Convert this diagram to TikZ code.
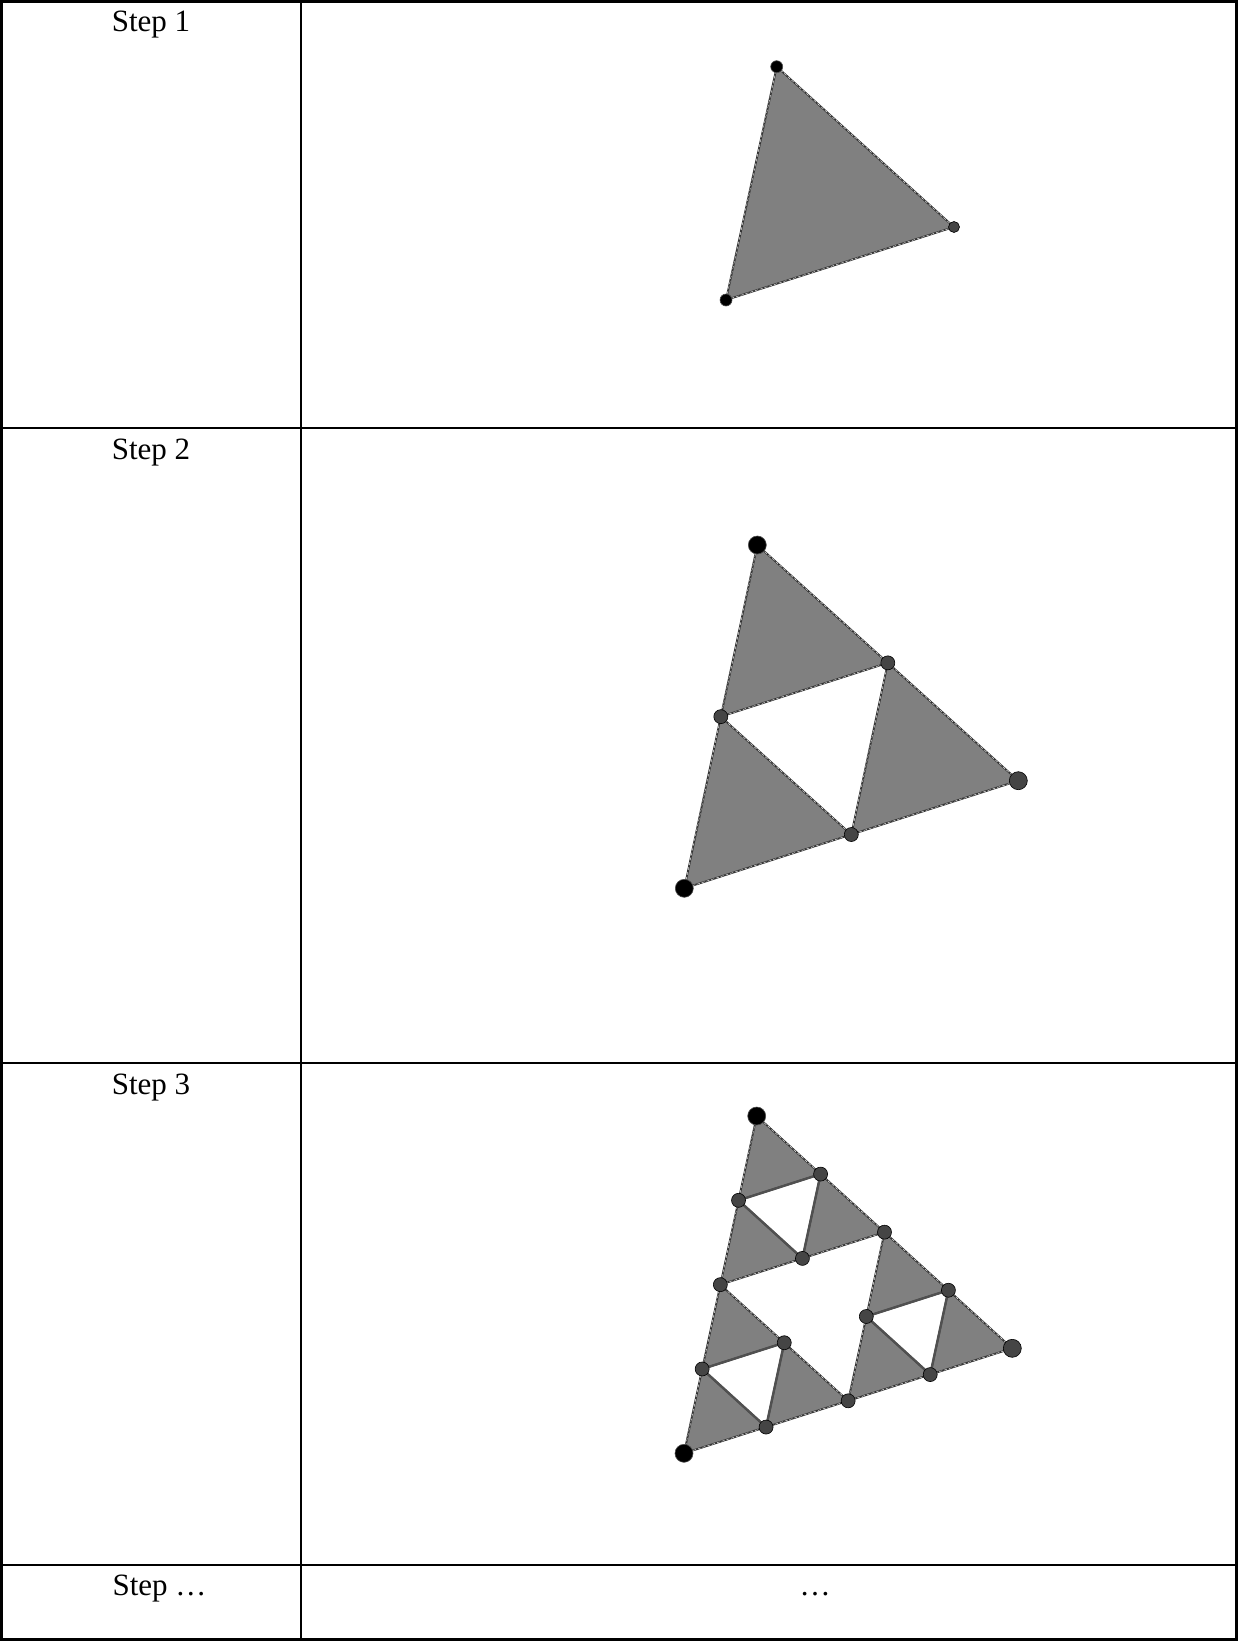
\documentclass[tikz,border=0pt]{standalone}
\usepackage{fontspec}
\setmainfont{Liberation Serif}
\usetikzlibrary{calc}
\definecolor{triGray}{HTML}{808080}
\definecolor{edgeGray}{HTML}{333333}
\definecolor{dotGray}{HTML}{454545}
\definecolor{holeEdge}{HTML}{505050}
\tikzset{
  grid/.style={line width=2.6pt, black},
  lbl/.style={anchor=base, inner sep=0pt, font=\fontsize{31}{37}\selectfont},
  tri/.style={fill=triGray, draw=edgeGray, line width=1.8pt, line join=round},
  hilite/.style={draw=white, line width=0.4pt, dash pattern=on 3pt off 2pt},
  hole/.style={draw=holeEdge, line width=2.4pt, line join=round},
  vdotbig/.style={fill=black, draw=black!70, line width=0.6pt},
  gdot/.style={fill=dotGray, draw=black, line width=0.6pt},
}
\newcommand{\gtri}[3]{%
  \path[tri] (#1) -- (#2) -- (#3) -- cycle;
  \path[hilite] (#1) -- (#2) -- (#3) -- cycle;}
\begin{document}
\begin{tikzpicture}[x=1pt,y=-1pt]
\useasboundingbox (0,0) rectangle (1238,1641);
% table
\draw[grid] (1.3,1.3) rectangle (1236.5,1639.5);
\draw[grid] (301,1) -- (301,1639.5);
\draw[grid] (1,428) -- (1236.5,428);
\draw[grid] (1,1063) -- (1236.5,1063);
\draw[grid] (1,1565) -- (1236.5,1565);
% labels
\node[lbl] (s1) at (151,31.5) {Step 1};
\node[lbl] (s2) at (151,459) {Step 2};
\node[lbl] (s3) at (151,1094) {Step 3};
\node[lbl] (s4) at (159.5,1595) {Step …};
\node[lbl] (dots) at (815,1595) {…};
% ---------- Step 1 ----------
\coordinate (A1) at (776.7,66.7);
\coordinate (B1) at (954,227);
\coordinate (C1) at (726,300);
\gtri{A1}{B1}{C1}
\fill[vdotbig] (A1) circle (6);
\fill[vdotbig] (C1) circle (6);
\fill[gdot] (B1) circle (5.5);
% ---------- Step 2 ----------
\coordinate (A2) at (757.3,545);
\coordinate (B2) at (1018.3,780.7);
\coordinate (C2) at (684.3,888.3);
\coordinate (P2) at ($(A2)!0.5!(B2)$);
\coordinate (Q2) at ($(A2)!0.5!(C2)$);
\coordinate (R2) at ($(B2)!0.5!(C2)$);
\gtri{A2}{P2}{Q2}
\gtri{P2}{B2}{R2}
\gtri{Q2}{R2}{C2}
\fill[gdot] (P2) circle (7);
\fill[gdot] (Q2) circle (7);
\fill[gdot] (R2) circle (7);
\fill[vdotbig] (A2) circle (9);
\fill[vdotbig] (C2) circle (9);
\fill[gdot] (B2) circle (9);
% ---------- Step 3 ----------
\coordinate (A) at (756.7,1116);
\coordinate (B) at (1012.3,1348.3);
\coordinate (C) at (684,1453.3);
\coordinate (P) at ($(A)!0.5!(B)$);
\coordinate (Q) at ($(A)!0.5!(C)$);
\coordinate (R) at ($(B)!0.5!(C)$);
\coordinate (a1) at ($(A)!0.5!(P)$);
\coordinate (a2) at ($(A)!0.5!(Q)$);
\coordinate (a3) at ($(P)!0.5!(Q)$);
\coordinate (b1) at ($(P)!0.5!(B)$);
\coordinate (b2) at ($(P)!0.5!(R)$);
\coordinate (b3) at ($(B)!0.5!(R)$);
\coordinate (c1) at ($(Q)!0.5!(R)$);
\coordinate (c2) at ($(Q)!0.5!(C)$);
\coordinate (c3) at ($(R)!0.5!(C)$);
\gtri{A}{a1}{a2}
\gtri{a1}{P}{a3}
\gtri{a2}{a3}{Q}
\gtri{P}{b1}{b2}
\gtri{b1}{B}{b3}
\gtri{b2}{b3}{R}
\gtri{Q}{c1}{c2}
\gtri{c1}{R}{c3}
\gtri{c2}{c3}{C}
\draw[hole] (a1) -- (a3) -- (a2) -- cycle;
\draw[hole] (b1) -- (b3) -- (b2) -- cycle;
\draw[hole] (c1) -- (c3) -- (c2) -- cycle;
\foreach \p in {P,Q,R,a1,a2,a3,b1,b2,b3,c1,c2,c3}
  \fill[gdot] (\p) circle (7);
\fill[vdotbig] (A) circle (9);
\fill[vdotbig] (C) circle (9);
\fill[gdot] (B) circle (9);
\end{tikzpicture}
\end{document}
